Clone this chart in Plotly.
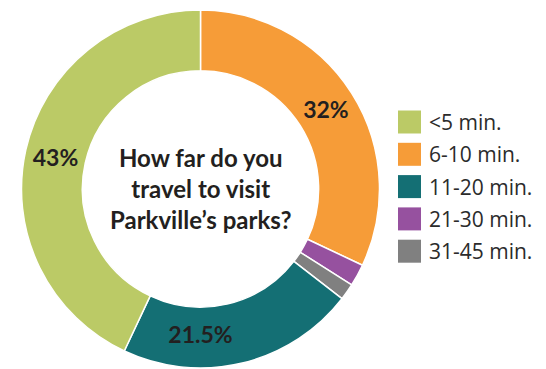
import plotly.graph_objects as go

# Travel-time categories (legend order) and their shares in percent
categories = ["<5 min.", "6-10 min.", "11-20 min.", "21-30 min.", "31-45 min."]
shares = [43, 32, 21.5, 2, 1.5]
colors = ["#bbca66", "#f69c38", "#146f74", "#96519f", "#808080"]

# Order in which slices run clockwise from 12 o'clock
slice_order = ["6-10 min.", "21-30 min.", "31-45 min.", "11-20 min.", "<5 min."]
# Only the larger slices carry a printed value
labelled = {"<5 min.": "43%", "6-10 min.": "32%", "11-20 min.": "21.5%"}

idx = [categories.index(c) for c in slice_order]
pie_labels = [categories[i] for i in idx]
pie_values = [shares[i] for i in idx]
pie_colors = [colors[i] for i in idx]
pie_text = [labelled.get(c, "") for c in pie_labels]

W, H = 546, 369
cx, cy, r = 200.5, 189.0, 179.0

fig = go.Figure()
fig.add_trace(go.Pie(
    labels=pie_labels,
    values=pie_values,
    text=pie_text,
    texttemplate="%{text}",
    textposition="inside",
    insidetextorientation="horizontal",
    textfont=dict(family="Lato", size=23, color="#231f20", weight="bold"),
    marker=dict(colors=pie_colors, line=dict(color="white", width=1.5)),
    hole=0.66,
    sort=False,
    direction="clockwise",
    rotation=0,
    showlegend=False,
    hoverinfo="label+percent",
    domain=dict(x=[(cx - r) / W, (cx + r) / W],
                y=[(H - cy - r) / H, (H - cy + r) / H]),
))

# Question in the hole of the donut
fig.add_annotation(
    x=cx / W, y=1 - (cy - 1) / H, xref="paper", yref="paper",
    text="How far do you<br>travel to visit<br>Parkville\u2019s parks?",
    showarrow=False, xanchor="center", yanchor="middle",
    font=dict(family="Lato", size=24, color="#231f20", weight="bold"),
    align="center",
)

# Legend: square swatches with labels to their right
sw = 23
x_sw = 398
row0, step = 122, 32.3
for i, (cat, col) in enumerate(zip(categories, colors)):
    yc = row0 + i * step
    fig.add_shape(
        type="rect", xref="paper", yref="paper",
        x0=x_sw / W, x1=(x_sw + sw) / W,
        y0=1 - (yc + sw / 2) / H, y1=1 - (yc - sw / 2) / H,
        fillcolor=col, line=dict(width=0),
    )
    fig.add_annotation(
        x=(x_sw + sw + 6) / W, y=1 - yc / H, xref="paper", yref="paper",
        text=cat, showarrow=False, xanchor="left", yanchor="middle",
        font=dict(family="Open Sans", size=21, color="#2b2b2b"),
    )

fig.update_layout(
    width=W, height=H,
    margin=dict(l=0, r=0, t=0, b=0),
    paper_bgcolor="white",
    plot_bgcolor="white",
)

fig.write_html("out.html")
